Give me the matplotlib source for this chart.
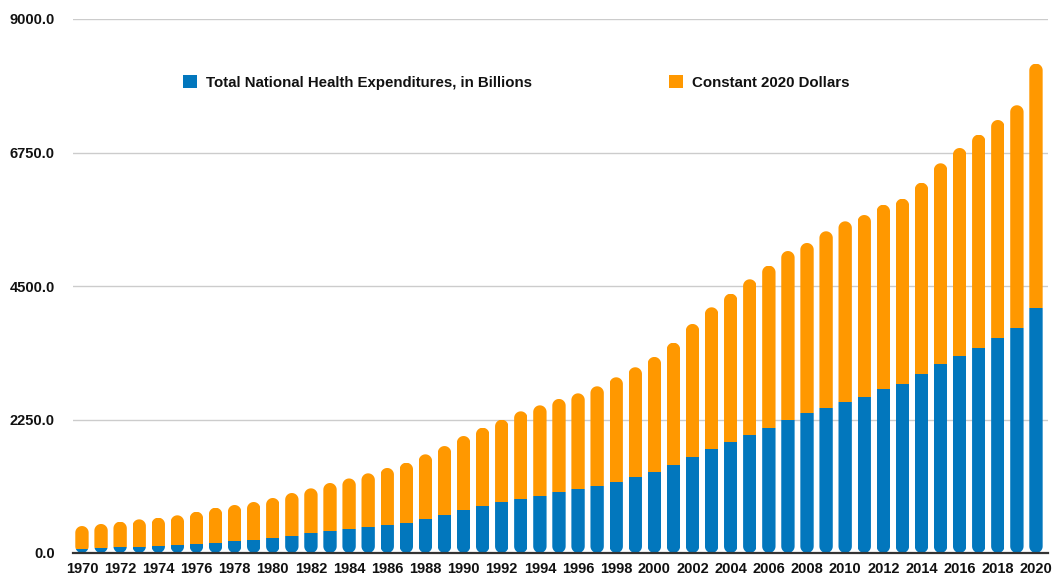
import matplotlib
matplotlib.use('Agg')
import matplotlib.pyplot as plt
from matplotlib.patches import PathPatch, Patch
from matplotlib.path import Path
import numpy as np

years = list(range(1970, 2021))
nhe_billions = [74.6, 83.3, 93.5, 103.2, 116.5, 133.3, 152.7, 173.9, 195.3, 221.6,
                253.2, 294.3, 330.8, 365.0, 402.3, 439.9, 472.2, 513.2, 574.0, 638.7,
                719.7, 788.1, 854.1, 915.8, 965.7, 1022.5, 1074.0, 1135.5, 1199.3, 1278.4,
                1366.5, 1484.0, 1619.4, 1750.9, 1864.9, 1986.9, 2112.4, 2238.7, 2354.2, 2446.1,
                2540.0, 2630.6, 2756.0, 2847.7, 3009.6, 3179.1, 3320.8, 3450.0, 3628.7, 3795.4,
                4124.0]
constant_2020 = [380, 406, 435, 464, 479, 502, 543, 590, 614, 638,
                 674, 717, 759, 815, 854, 903, 961, 1009, 1089, 1164,
                 1252, 1324, 1393, 1472, 1523, 1574, 1617, 1674, 1762, 1852,
                 1938, 2061, 2241, 2390, 2506, 2626, 2731, 2851, 2871, 2976,
                 3050, 3066, 3114, 3124, 3231, 3389, 3505, 3601, 3669, 3751,
                 4124]
yticks = [0, 2250, 4500, 6750, 9000]
series_labels = ["Total National Health Expenditures, in Billions", "Constant 2020 Dollars"]
colors = ["#0277bd", "#ff9800"]

plt.rcParams['font.family'] = ['Liberation Sans', 'DejaVu Sans']
fig = plt.figure(figsize=(10.52, 5.76), dpi=100)
ax = fig.add_axes([73/1052, 23/576, 975/1052, 534/576])
x = np.arange(len(years))
w = 0.7
ax.set_xlim(-0.47, len(years) - 1 + 0.63)
ax.set_ylim(0, 9000)

b1 = ax.bar(x, nhe_billions, w, color=colors[0], zorder=3, linewidth=0)
b2 = ax.bar(x, constant_2020, w, bottom=nhe_billions, color=colors[1], zorder=3, linewidth=0)

# rounded (pill-shaped) stacks via clip paths, built from each bar's own geometry
p0 = ax.transData.transform((0, 0))
px_x = ax.transData.transform((1, 0))[0] - p0[0]
px_y = ax.transData.transform((0, 1))[1] - p0[1]
hw = w / 2
ry = hw * px_x / px_y
t_bot = np.linspace(np.pi, 2 * np.pi, 24)
t_top = np.linspace(0, np.pi, 24)
for p1, p2 in zip(b1.patches, b2.patches):
    cx = p1.get_x() + hw
    y0 = p1.get_y()
    total = p1.get_height() + p2.get_height()
    bx = cx + hw * np.cos(t_bot)
    by = y0 + ry + ry * np.sin(t_bot)
    tx = cx + hw * np.cos(t_top)
    ty = y0 + total - ry + ry * np.sin(t_top)
    verts = np.column_stack([np.concatenate([bx, tx, bx[:1]]),
                             np.concatenate([by, ty, by[:1]])])
    codes = [Path.MOVETO] + [Path.LINETO] * (len(verts) - 2) + [Path.CLOSEPOLY]
    pill = PathPatch(Path(verts, codes), transform=ax.transData,
                     facecolor='none', edgecolor='none')
    p1.set_clip_path(pill)
    p2.set_clip_path(pill)

ax.set_yticks(yticks)
ax.set_yticklabels([f"{v:.1f}" for v in yticks])
ax.set_xticks(x[::2])
ax.set_xticklabels([str(y) for y in years[::2]])
for lbl in ax.get_xticklabels() + ax.get_yticklabels():
    lbl.set_fontweight('bold')
    lbl.set_fontsize(10.5)
    lbl.set_color('#111111')
ax.tick_params(axis='y', length=0, pad=13)
ax.tick_params(axis='x', length=0, pad=6.5)

ax.grid(axis='y', color='#cccccc', linewidth=1, zorder=0)
ax.set_axisbelow(True)
for s in ['top', 'right', 'left']:
    ax.spines[s].set_visible(False)
ax.spines['bottom'].set_color('#333333')
ax.spines['bottom'].set_linewidth(1.6)
ax.spines['bottom'].set_zorder(5)

handles = [Patch(facecolor=c, edgecolor='none') for c in colors]
leg = fig.legend(handles, series_labels, ncol=2, loc='upper left',
                 bbox_to_anchor=(183/1052, 1 - 75/576), bbox_transform=fig.transFigure,
                 frameon=False, borderpad=0, borderaxespad=0,
                 handlelength=0.93, handleheight=0.93, handletextpad=0.6,
                 columnspacing=9.15, prop={'weight': 'bold', 'size': 10.8})
for t in leg.get_texts():
    t.set_color('#111111')

fig.savefig('out.png', dpi=100)
